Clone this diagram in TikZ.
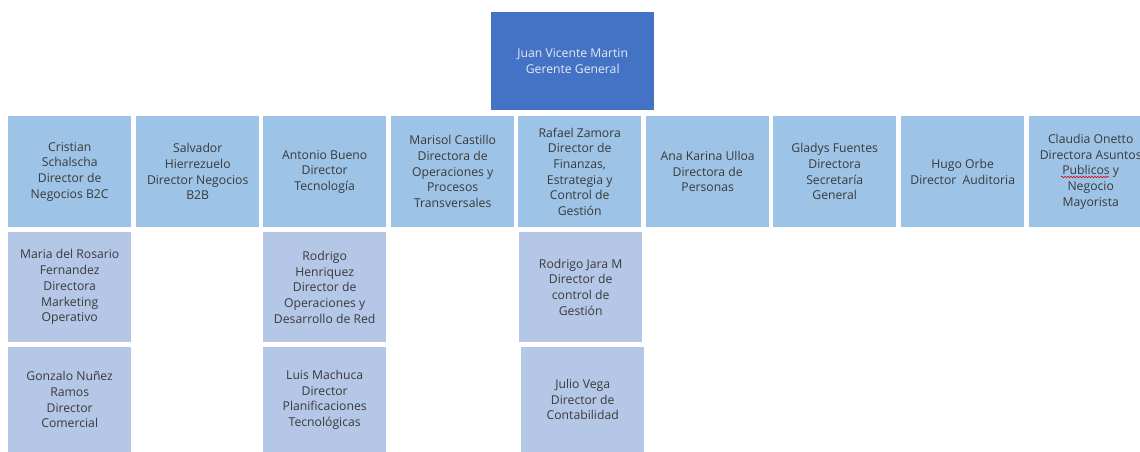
\documentclass[tikz,border=0pt]{standalone}
\usepackage{fontspec}
\setmainfont{Open Sans}
\usetikzlibrary{decorations.pathmorphing}
\definecolor{topblue}{HTML}{4472C4}
\definecolor{rowone}{HTML}{9DC3E6}
\definecolor{rowtwo}{HTML}{B4C7E7}
\definecolor{txtgray}{HTML}{3A3A3A}
\definecolor{toptxt}{HTML}{E4EAF5}
\begin{document}
\begin{tikzpicture}[x=1pt,y=-1pt,
  base/.style={anchor=north west, inner sep=0pt, align=center,
    font=\fontsize{12.2}{15.7}\selectfont, text=txtgray},
  topbox/.style={base, fill=topblue, text=toptxt, minimum width=163pt, minimum height=98pt},
  dirbox/.style={base, fill=rowone, minimum width=123pt, minimum height=111pt},
  subbox/.style={base, fill=rowtwo, minimum width=123pt, minimum height=110pt},
  lowbox/.style={base, fill=rowtwo, minimum width=123pt, minimum height=105pt},
  spell/.style={red!85!black, line width=0.6pt, decorate, decoration={snake, amplitude=0.8pt, segment length=3pt}}
]
\clip (0,0) rectangle (1140,451);
\fill[white] (0,0) rectangle (1140,451);

\node[topbox] (gg) at (491,12) {Juan Vicente Martin\\Gerente General};

\node[dirbox] (d1) at (8,116) {Cristian\\Schalscha\\Director de\\Negocios B2C};
\node[dirbox] (d2) at (136,116) {Salvador\\Hierrezuelo\\Director Negocios\\B2B};
\node[dirbox] (d3) at (263,116) {Antonio Bueno\\Director\\Tecnología};
\node[dirbox] (d4) at (391,116) {Marisol Castillo\\Directora de\\Operaciones y\\Procesos\\Transversales};
\node[dirbox] (d5) at (518,116) {Rafael Zamora\\Director de\\Finanzas,\\Estrategia y\\Control de\\Gestión};
\node[dirbox] (d6) at (646,116) {Ana Karina Ulloa\\Directora de\\Personas};
\node[dirbox] (d7) at (773,116) {Gladys Fuentes\\Directora\\Secretaría\\General};
\node[dirbox] (d8) at (901,116) {Hugo Orbe\\Director~ Auditoria};
\node[dirbox] (d9) at (1029,116) {Claudia Onetto\\Directora Asuntos\\Publicos y\\Negocio\\Mayorista};

\node[subbox] (s1) at (8,232) {Maria del Rosario\\Fernandez\\Directora\\Marketing\\Operativo};
\node[subbox] (s3) at (263,232) {Rodrigo\\Henriquez\\Director de\\Operaciones y\\Desarrollo de Red};
\node[subbox] (s5) at (519,232) {Rodrigo Jara M\\Director de\\control de\\Gestión};

\node[lowbox] (l1) at (8,347) {Gonzalo Nuñez\\Ramos\\Director\\Comercial};
\node[lowbox] (l3) at (263,347) {Luis Machuca\\Director\\Planificaciones\\Tecnológicas};
\node[lowbox] (l5) at (521,347) {Julio Vega\\Director de\\Contabilidad};

\coordinate (sp1) at (1061,177);
\coordinate (sp2) at (1109,177);
\draw[spell] (sp1) -- (sp2);
\end{tikzpicture}
\end{document}
